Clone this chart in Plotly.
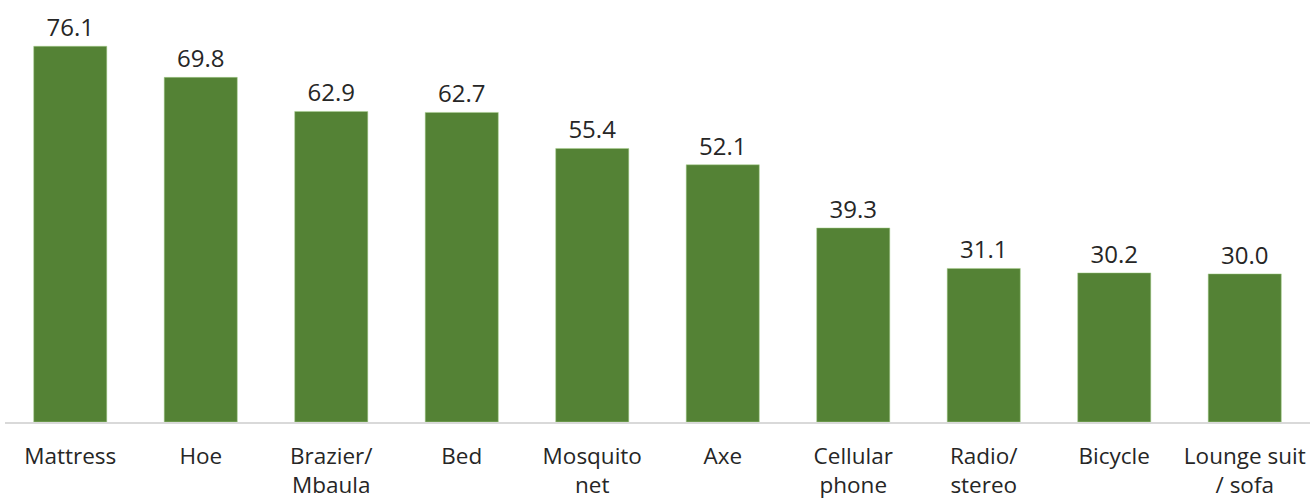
import plotly.graph_objects as go

items = ["Mattress", "Hoe", "Brazier/<br>Mbaula", "Bed", "Mosquito<br>net", "Axe",
         "Cellular<br>phone", "Radio/<br>stereo", "Bicycle", "Lounge suit<br>/ sofa"]
percent = [76.1, 69.8, 62.9, 62.7, 55.4, 52.1, 39.3, 31.1, 30.2, 30.0]

fig = go.Figure(go.Bar(
    x=items, y=percent,
    marker=dict(color="#548235", line=dict(color="#a9d18e", width=0.5)),
    text=[f"{v:.1f}" for v in percent], textposition="outside",
    textfont=dict(size=24, color="#262626"), cliponaxis=False,
    width=0.56,
))

fig.update_layout(
    width=1312, height=500,
    margin=dict(l=5, r=2, t=27, b=78),
    plot_bgcolor="white", paper_bgcolor="white",
    font=dict(family="Open Sans", size=22.5, color="#262626"),
    showlegend=False,
)
fig.update_xaxes(showline=True, linecolor="#d9d9d9", linewidth=1.5,
                 automargin=False,
                 ticks="outside", ticklen=13, tickcolor="rgba(0,0,0,0)",
                 tickfont=dict(size=22.5, color="#262626"))
fig.update_yaxes(range=[0, 80], visible=False, showgrid=False)

# page has a default body margin; drop it so the figure sits at the corner
fig.write_html("out.html", config={"displayModeBar": False},
               post_script="document.body.style.margin='0';")
